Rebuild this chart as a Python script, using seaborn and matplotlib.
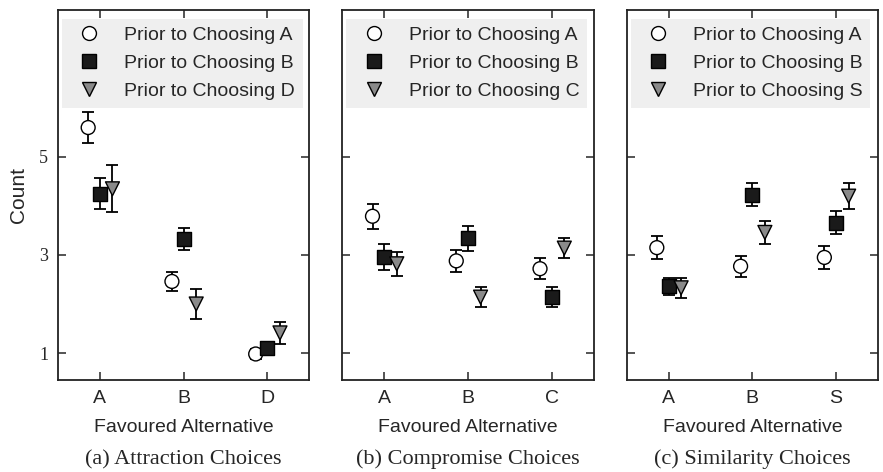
"""Mean counts per favoured alternative, split by the choice that followed."""
import matplotlib
matplotlib.use("Agg")
import matplotlib.pyplot as plt
import numpy as np
import pandas as pd
import seaborn as sns

# ---- data ----
attraction_alts = ["A", "B", "D"]
attraction_priors = ["Prior to Choosing A", "Prior to Choosing B", "Prior to Choosing D"]
attraction_means = [[5.60, 2.46, 0.98], [4.25, 3.33, 1.11], [4.35, 2.00, 1.41]]
attraction_errs = [[0.31, 0.19, 0.10], [0.32, 0.22, 0.06], [0.48, 0.30, 0.22]]

compromise_alts = ["A", "B", "C"]
compromise_priors = ["Prior to Choosing A", "Prior to Choosing B", "Prior to Choosing C"]
compromise_means = [[3.79, 2.88, 2.72], [2.96, 3.34, 2.14], [2.82, 2.14, 3.14]]
compromise_errs = [[0.25, 0.23, 0.22], [0.26, 0.25, 0.21], [0.25, 0.20, 0.20]]

similarity_alts = ["A", "B", "S"]
similarity_priors = ["Prior to Choosing A", "Prior to Choosing B", "Prior to Choosing S"]
similarity_means = [[3.15, 2.77, 2.95], [2.36, 4.23, 3.66], [2.33, 3.46, 4.20]]
similarity_errs = [[0.23, 0.21, 0.23], [0.18, 0.24, 0.23], [0.20, 0.23, 0.26]]

captions = ["(a) Attraction Choices", "(b) Compromise Choices", "(c) Similarity Choices"]

OFFSETS = [-0.14, 0.0, 0.15]
FILLS = ["white", "#1a1a1a", "#8a8a8a"]
MARKERS = ["o", "s", "v"]

sns.set_style("ticks")
plt.rcParams["font.family"] = ["Liberation Sans", "DejaVu Sans"]
SERIF = ["Liberation Serif", "DejaVu Serif"]


def make_frame(alts, priors, means, errs):
    rows = []
    for k, prior in enumerate(priors):
        for i, alt in enumerate(alts):
            rows.append({"alt": alt, "prior": prior, "x": i + 1 + OFFSETS[k],
                         "mean": means[k][i], "err": errs[k][i]})
    return pd.DataFrame(rows)


def draw_panel(ax, alts, priors, means, errs, caption, first):
    df = make_frame(alts, priors, means, errs)
    ax.errorbar(df["x"], df["mean"], yerr=df["err"], fmt="none", ecolor="black",
                elinewidth=1.3, capsize=4.5, capthick=1.3, zorder=2)
    sns.scatterplot(data=df, x="x", y="mean", hue="prior", style="prior",
                    hue_order=priors, style_order=priors,
                    palette=dict(zip(priors, FILLS)), markers=dict(zip(priors, MARKERS)),
                    s=100, edgecolor="black", linewidth=1.0, ax=ax, zorder=3)

    ax.set_xlim(0.5, 3.5)
    ax.set_ylim(0.45, 8.0)
    ax.set_xticks(np.arange(1, len(alts) + 1))
    ax.set_xticklabels(alts, fontsize=14)
    ax.set_yticks([1, 3, 5])
    if first:
        ax.set_yticklabels(["1", "3", "5"], family=SERIF, fontsize=13)
        ax.set_ylabel("Count", fontsize=15, labelpad=8)
    else:
        ax.set_yticklabels([])
        ax.set_ylabel("")
    ax.tick_params(direction="in", top=True, right=True, length=5.5, width=1.1)
    ax.tick_params(axis="x", pad=7)
    ax.tick_params(axis="y", pad=7)
    ax.set_xlabel("Favoured Alternative", fontsize=14, labelpad=9)
    for sp in ax.spines.values():
        sp.set_linewidth(1.3)
        sp.set_color("#222222")

    sns.move_legend(ax, "upper left", bbox_to_anchor=(0.016, 0.976), title=None,
                    frameon=True, facecolor="#efefef", edgecolor="none", framealpha=1,
                    fancybox=False, fontsize=14, borderpad=0.4, handletextpad=0.8,
                    labelspacing=0.53, borderaxespad=0)

    ax.text(0.5, -0.215, caption, transform=ax.transAxes, ha="center", va="center",
            family=SERIF, fontsize=16)


fig, axes = plt.subplots(1, 3, figsize=(8.83, 4.72), dpi=100)
fig.subplots_adjust(left=0.0657, right=0.9943, bottom=0.195, top=0.979, wspace=0.1315)

draw_panel(axes[0], attraction_alts, attraction_priors, attraction_means,
           attraction_errs, captions[0], True)
draw_panel(axes[1], compromise_alts, compromise_priors, compromise_means,
           compromise_errs, captions[1], False)
draw_panel(axes[2], similarity_alts, similarity_priors, similarity_means,
           similarity_errs, captions[2], False)

fig.savefig("out.png", dpi=100)
